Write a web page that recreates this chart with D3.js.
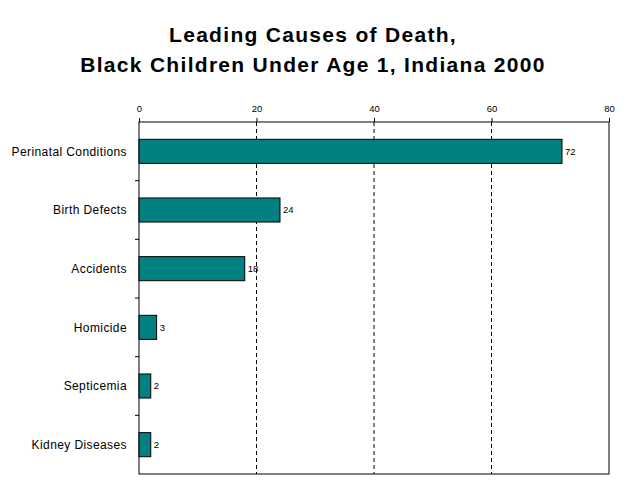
<!DOCTYPE html>
<html><head><meta charset="utf-8">
<script src="https://cdn.jsdelivr.net/npm/d3@7"></script>
<style>body{margin:0;background:#fff}svg{display:block}text{font-family:Arial,"Liberation Sans",sans-serif}</style>
</head><body>
<script>
const categories = ["Perinatal Conditions","Birth Defects","Accidents","Homicide","Septicemia","Kidney Diseases"];
const values = [72,24,18,3,2,2];
const tickValues = [0,20,40,60,80];
const titleLines = ["Leading Causes of Death,","Black Children Under Age 1, Indiana 2000"];

const W=627,H=484;
const m={left:139,right:18,top:122,bottom:10};
const svg=d3.select("body").append("svg").attr("width",W).attr("height",H);
const x=d3.scaleLinear().domain([0,80]).range([m.left,W-m.right]);
const y=d3.scaleBand().domain(categories).range([m.top,H-m.bottom]).paddingInner(0.59).paddingOuter(0.295);

svg.selectAll("text.title").data(titleLines).join("text").attr("class","title")
  .attr("x",313).attr("y",(d,i)=>42+i*30).attr("text-anchor","middle")
  .attr("font-size",21).attr("font-weight","bold").attr("letter-spacing","1.3px").text(d=>d);

// gridlines
svg.selectAll("line.grid").data(tickValues.filter(t=>t>0&&t<80)).join("line")
  .attr("x1",d=>x(d)).attr("x2",d=>x(d)).attr("y1",m.top).attr("y2",H-m.bottom)
  .attr("stroke","#000").attr("stroke-dasharray","4,3");

// frame
svg.append("rect").attr("x",m.left).attr("y",m.top).attr("width",x(80)-m.left).attr("height",H-m.bottom-m.top)
  .attr("fill","none").attr("stroke","#000");

// top axis
const xa=d3.axisTop(x).tickValues(tickValues).tickSize(4).tickSizeOuter(0);
const gx=svg.append("g").attr("transform",`translate(0,${m.top})`).call(xa);
gx.select(".domain").remove();
gx.selectAll("text").attr("font-size",9.5).attr("font-family","Arial").attr("dy","-0.3em");

// left axis ticks at band boundaries
const bounds=d3.range(1,categories.length).map(i=>m.top+i*(H-m.bottom-m.top)/categories.length);
svg.selectAll("line.ytick").data(bounds).join("line")
  .attr("x1",m.left-4).attr("x2",m.left).attr("y1",d=>d).attr("y2",d=>d).attr("stroke","#000");

svg.selectAll("text.cat").data(categories).join("text").attr("class","cat")
  .attr("x",127).attr("y",d=>y(d)+y.bandwidth()/2).attr("dy","0.35em")
  .attr("text-anchor","end").attr("font-size",12).attr("letter-spacing","0.4px").text(d=>d);

svg.selectAll("rect.bar").data(values).join("rect").attr("class","bar")
  .attr("x",x(0)).attr("y",(d,i)=>y(categories[i])).attr("width",d=>x(d)-x(0)).attr("height",y.bandwidth())
  .attr("fill","#008080").attr("stroke","#000");

svg.selectAll("text.val").data(values).join("text").attr("class","val")
  .attr("x",d=>x(d)+3).attr("y",(d,i)=>y(categories[i])+y.bandwidth()/2).attr("dy","0.35em")
  .attr("font-size",9.5).text(d=>d);
</script>
</body></html>
